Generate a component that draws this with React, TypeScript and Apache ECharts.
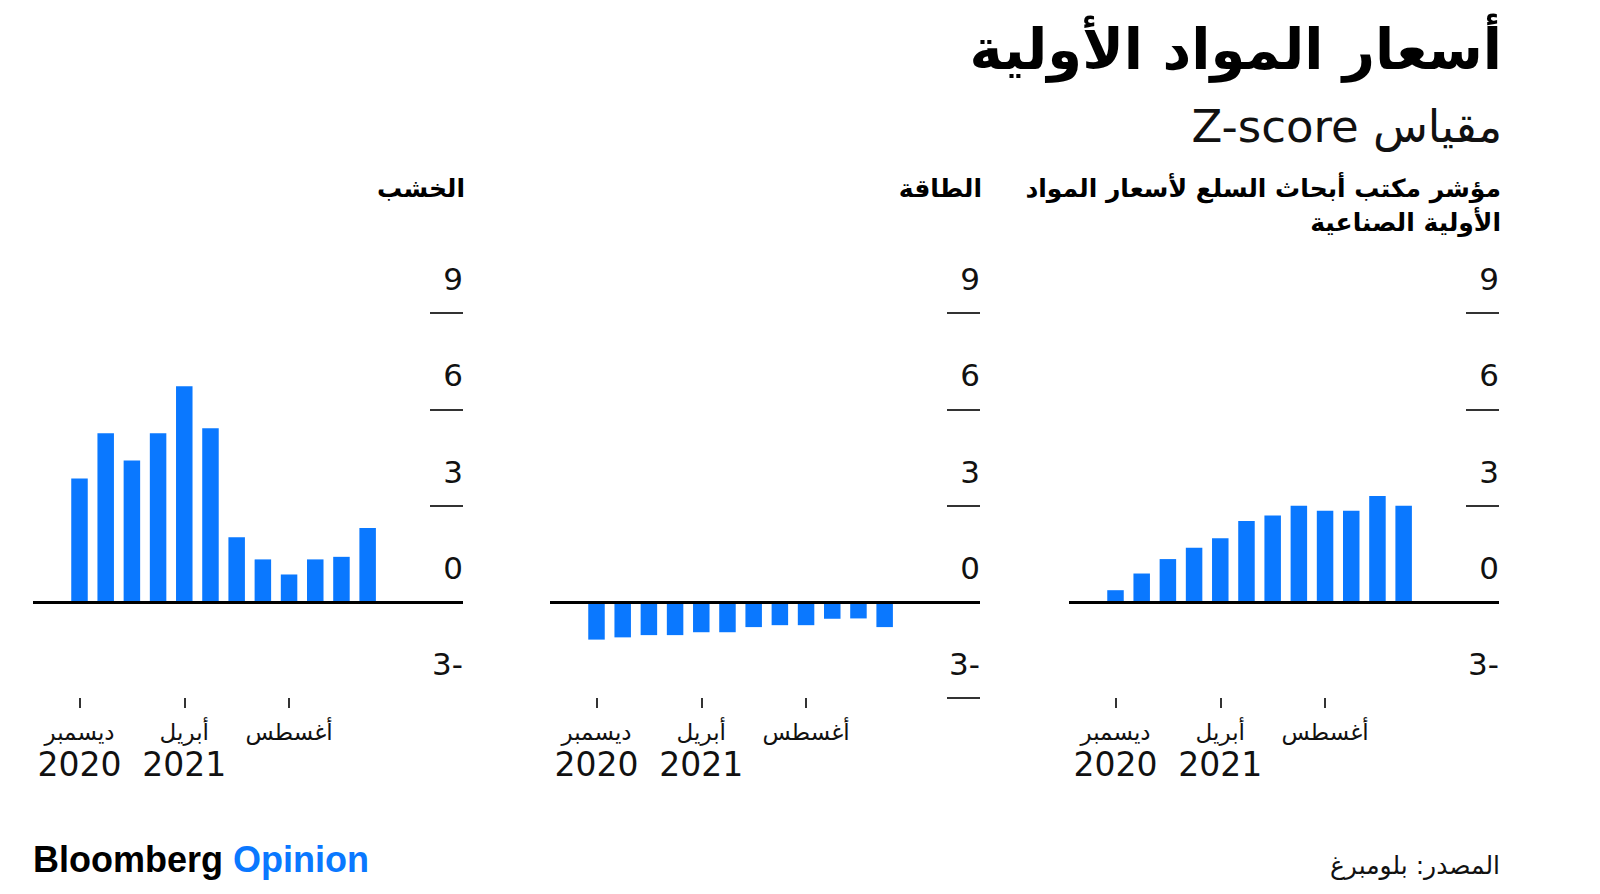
import React, { useEffect, useRef } from "react";
import * as echarts from "echarts";

// Monthly categories: Dec 2020 .. Nov 2021
const categories = [
  "2020-12", "2021-01", "2021-02", "2021-03", "2021-04", "2021-05",
  "2021-06", "2021-07", "2021-08", "2021-09", "2021-10", "2021-11",
];

const industrialValues = [0.36, 0.88, 1.33, 1.68, 1.98, 2.52, 2.69, 2.99, 2.84, 2.84, 3.3, 2.99];
const energyValues = [-1.18, -1.11, -1.04, -1.04, -0.95, -0.95, -0.79, -0.73, -0.73, -0.53, -0.52, -0.79];
const lumberValues = [3.84, 5.25, 4.4, 5.25, 6.72, 5.41, 2.01, 1.32, 0.85, 1.32, 1.4, 2.3];

const panelTitles = [
  "مؤشر مكتب أبحاث السلع لأسعار المواد\nالأولية الصناعية",
  "الطاقة",
  "الخشب",
];

const tickIndexes = [0, 4, 8];
const tickMonths = ["ديسمبر", "أبريل", "أغسطس"];
const tickYears = ["2020", "2021", ""];

const yLabelValues = [-3, 0, 3, 6, 9];

const mainTitle = "أسعار المواد الأولية";
const subTitle = "Z-score مقياس";
const sourceText = "المصدر: بلومبرغ";

const BLUE = "#0A78FF";
const AR = "'DejaVu Sans', sans-serif";

export default function App() {
  const ref = useRef<HTMLDivElement>(null);

  useEffect(() => {
    document.body.style.margin = "0";
    const chart = echarts.init(ref.current!, null, { renderer: "svg" });

    const panelLefts = [1069, 550, 33];
    const seriesValues = [industrialValues, energyValues, lumberValues];
    const yTickValues = [[0, 3, 6, 9], [-3, 0, 3, 6, 9], [0, 3, 6, 9]];

    const grids = panelLefts.map((l) => ({ left: l, width: 430, top: 313, height: 385 }));

    const xAxes = panelLefts.map((_, i) => ({
      type: "value",
      gridIndex: i,
      min: -1.775,
      max: 14.64,
      axisLine: { show: false, onZero: false },
      splitLine: { show: false },
      axisTick: {
        show: true,
        customValues: tickIndexes,
        length: 10,
        lineStyle: { color: "#333", width: 2 },
      },
      axisLabel: {
        show: true,
        customValues: tickIndexes,
        margin: 19,
        formatter: (v: number) => {
          const k = tickIndexes.indexOf(Math.round(v));
          if (k < 0) return "";
          const y = tickYears[k];
          return y ? `{m|${tickMonths[k]}}\n{y|${y}}` : `{m|${tickMonths[k]}}`;
        },
        rich: {
          m: { fontFamily: AR, fontSize: 23, lineHeight: 29, color: "#111" },
          y: { fontFamily: AR, fontSize: 33, lineHeight: 36, color: "#111" },
        },
      },
    }));

    const yAxes = panelLefts.map((_, i) => ({
      type: "value",
      gridIndex: i,
      position: "right",
      min: -3,
      max: 9,
      axisLine: { show: false, onZero: false },
      splitLine: { show: false },
      axisTick: {
        show: true,
        inside: true,
        length: 33,
        customValues: yTickValues[i],
        lineStyle: { color: "#333", width: 2 },
      },
      axisLabel: {
        show: true,
        inside: true,
        margin: 0,
        customValues: yLabelValues,
        formatter: (v: number) => (v < 0 ? `${Math.abs(v)}-` : `${v}`),
        fontFamily: AR,
        fontSize: 31,
        color: "#111",
        verticalAlign: "bottom",
        lineHeight: 32,
        padding: [0, 0, 18, 0],
      },
    }));

    const series = seriesValues.map((vals, i) => ({
      type: "bar",
      xAxisIndex: i,
      yAxisIndex: i,
      barWidth: 16.5,
      itemStyle: { color: BLUE },
      data: vals.map((v, j) => [j, v]),
      name: categories[0],
      markLine: {
        silent: true,
        symbol: ["none", "none"],
        label: { show: false },
        lineStyle: { color: "#000", width: 3, type: "solid" },
        data: [{ yAxis: 0 }],
        z: 5,
      },
    }));

    const graphic: any[] = [
      {
        type: "text",
        right: 98,
        top: 21,
        style: { text: mainTitle, fontFamily: AR, fontWeight: "bold", fontSize: 56, fill: "#000" },
      },
      {
        type: "text",
        right: 98,
        top: 104,
        style: { text: subTitle, fontFamily: AR, fontSize: 45, fill: "#111" },
      },
      ...panelTitles.map((t, i) => ({
        type: "text",
        x: panelLefts[i] + 432,
        y: 171,
        style: {
          text: t,
          textAlign: "right",
          fontFamily: AR,
          fontWeight: "bold",
          fontSize: 25,
          lineHeight: 34,
          fill: "#000",
        },
      })),
      {
        type: "text",
        x: 33,
        y: 841,
        style: {
          text: "{a|Bloomberg }{b|Opinion}",
          rich: {
            a: { fontFamily: "'Liberation Sans', Arial, sans-serif", fontWeight: "bold", fontSize: 36, fill: "#000" },
            b: { fontFamily: "'Liberation Sans', Arial, sans-serif", fontWeight: "bold", fontSize: 36, fill: BLUE },
          },
        },
      },
      {
        type: "text",
        x: 1500,
        y: 853,
        style: { text: sourceText, textAlign: "right", fontFamily: AR, fontSize: 25, fill: "#111" },
      },
    ];

    chart.setOption({
      animation: false,
      backgroundColor: "#fff",
      grid: grids,
      xAxis: xAxes,
      yAxis: yAxes,
      series,
      graphic,
    } as any);

    return () => chart.dispose();
  }, []);

  return <div ref={ref} style={{ width: 1600, height: 894 }} />;
}
